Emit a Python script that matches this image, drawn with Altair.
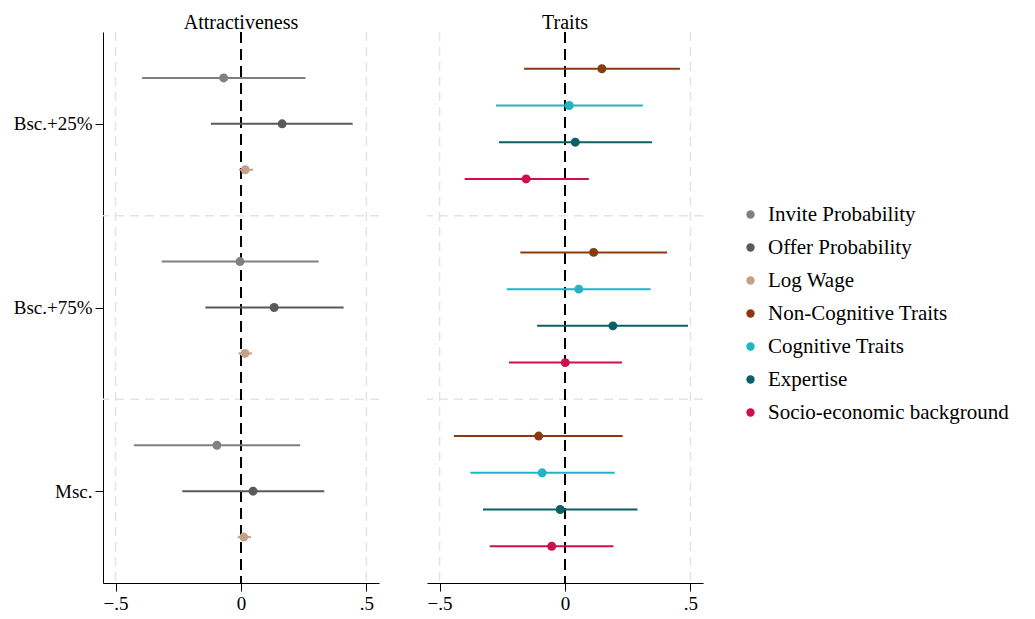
import altair as alt
import pandas as pd

groups = ["Bsc.+25%", "Bsc.+75%", "Msc."]

attr_series = ["Invite Probability", "Offer Probability", "Log Wage"]
attr_est = [
    [-0.069, 0.164, 0.017],
    [-0.004, 0.132, 0.016],
    [-0.096, 0.048, 0.011],
]
attr_lo = [
    [-0.394, -0.120, -0.008],
    [-0.316, -0.142, -0.010],
    [-0.427, -0.234, -0.013],
]
attr_hi = [
    [0.257, 0.445, 0.048],
    [0.309, 0.409, 0.044],
    [0.236, 0.332, 0.040],
]

trait_series = ["Non-Cognitive Traits", "Cognitive Traits", "Expertise", "Socio-economic background"]
trait_est = [
    [0.147, 0.017, 0.041, -0.155],
    [0.114, 0.055, 0.191, 0.001],
    [-0.105, -0.091, -0.019, -0.053],
]
trait_lo = [
    [-0.163, -0.275, -0.263, -0.400],
    [-0.178, -0.232, -0.111, -0.223],
    [-0.443, -0.377, -0.327, -0.300],
]
trait_hi = [
    [0.458, 0.310, 0.347, 0.095],
    [0.407, 0.341, 0.490, 0.227],
    [0.230, 0.198, 0.289, 0.193],
]

all_series = attr_series + trait_series
colors = ["#808080", "#595959", "#c4a08b", "#8b3a0f", "#22b4c4", "#0c5f67", "#cc1048"]

FONT = "Liberation Serif"


def build(series, est, lo, hi, step):
    rows = []
    n = len(series)
    for gi, g in enumerate(groups):
        for k, s in enumerate(series):
            rows.append({
                "group": g,
                "series": s,
                "pos": gi + 1 + (k - (n - 1) / 2) * step,
                "est": est[gi][k],
                "lo": lo[gi][k],
                "hi": hi[gi][k],
            })
    return pd.DataFrame(rows)


df_attr = build(attr_series, attr_est, attr_lo, attr_hi, 0.25)
df_trait = build(trait_series, trait_est, trait_lo, trait_hi, 0.2)

xscale = alt.Scale(domain=[-0.55, 0.55], nice=False, zero=False)
yscale = alt.Scale(domain=[0.5, 3.5], reverse=True, nice=False, zero=False)
cscale = alt.Scale(domain=all_series, range=colors)

legend = alt.Legend(
    title=None,
    orient="none",
    legendX=637,
    legendY=172,
    labelFont=FONT,
    labelFontSize=21,
    labelColor="black",
    symbolSize=70,
    symbolType="circle",
    symbolStrokeWidth=0,
    rowPadding=11,
    labelOffset=7,
    labelLimit=400,
)

xaxis = alt.Axis(
    values=[-0.5, 0, 0.5],
    labelExpr="datum.value == 0 ? '0' : replace(format(datum.value, '.1f'), '0.', '.')",
    grid=False,
    domainColor="black",
    tickColor="black",
    tickSize=8,
    labelFontSize=19,
    labelFont=FONT,
    labelColor="black",
    labelPadding=3,
    title=None,
)

label_map = "datum.value == 1 ? 'Bsc.+25%' : datum.value == 2 ? 'Bsc.+75%' : 'Msc.'"


def panel(df, title, show_y):
    if show_y:
        yaxis = alt.Axis(
            values=[1, 2, 3],
            labelExpr=label_map,
            grid=False,
            domainColor="black",
            tickColor="black",
            tickSize=8,
            labelFontSize=19,
            labelFont=FONT,
            labelColor="black",
            labelPadding=3,
            title=None,
        )
    else:
        yaxis = None

    vgrid = alt.Chart(pd.DataFrame({"v": [-0.5, 0.5]})).mark_rule(
        color="#e4e4e4", strokeDash=[9, 6], strokeWidth=1.5
    ).encode(x=alt.X("v:Q", scale=xscale, axis=xaxis))

    hgrid = alt.Chart(pd.DataFrame({"h": [1.5, 2.5]})).mark_rule(
        color="#e4e4e4", strokeDash=[9, 6], strokeWidth=1.5
    ).encode(y=alt.Y("h:Q", scale=yscale, axis=yaxis))

    zero = alt.Chart(pd.DataFrame({"z": [0]})).mark_rule(
        color="black", strokeDash=[11, 6], strokeWidth=2
    ).encode(x=alt.X("z:Q", scale=xscale))

    bars = alt.Chart(df).mark_rule(strokeWidth=2).encode(
        x=alt.X("lo:Q", scale=xscale),
        x2="hi:Q",
        y=alt.Y("pos:Q", scale=yscale),
        color=alt.Color("series:N", scale=cscale, legend=legend),
    )

    pts = alt.Chart(df).mark_circle(size=80, opacity=1).encode(
        x=alt.X("est:Q", scale=xscale),
        y=alt.Y("pos:Q", scale=yscale),
        color=alt.Color("series:N", scale=cscale, legend=legend),
    )

    return alt.layer(vgrid, hgrid, zero, bars, pts).properties(
        width=276,
        height=551,
        title=alt.TitleParams(title, font=FONT, fontSize=20, fontWeight="normal", color="black", offset=-2),
    )


left = panel(df_attr, "Attractiveness", True)
right = panel(df_trait, "Traits", False)

chart = (
    alt.hconcat(left, right, spacing=46)
    .properties(padding={"left": 5, "top": 5, "right": 0, "bottom": 5})
    .configure_view(stroke=None)
    .configure_concat(spacing=46)
)

chart.save("out.html", embed_options={"renderer": "svg", "actions": False})
